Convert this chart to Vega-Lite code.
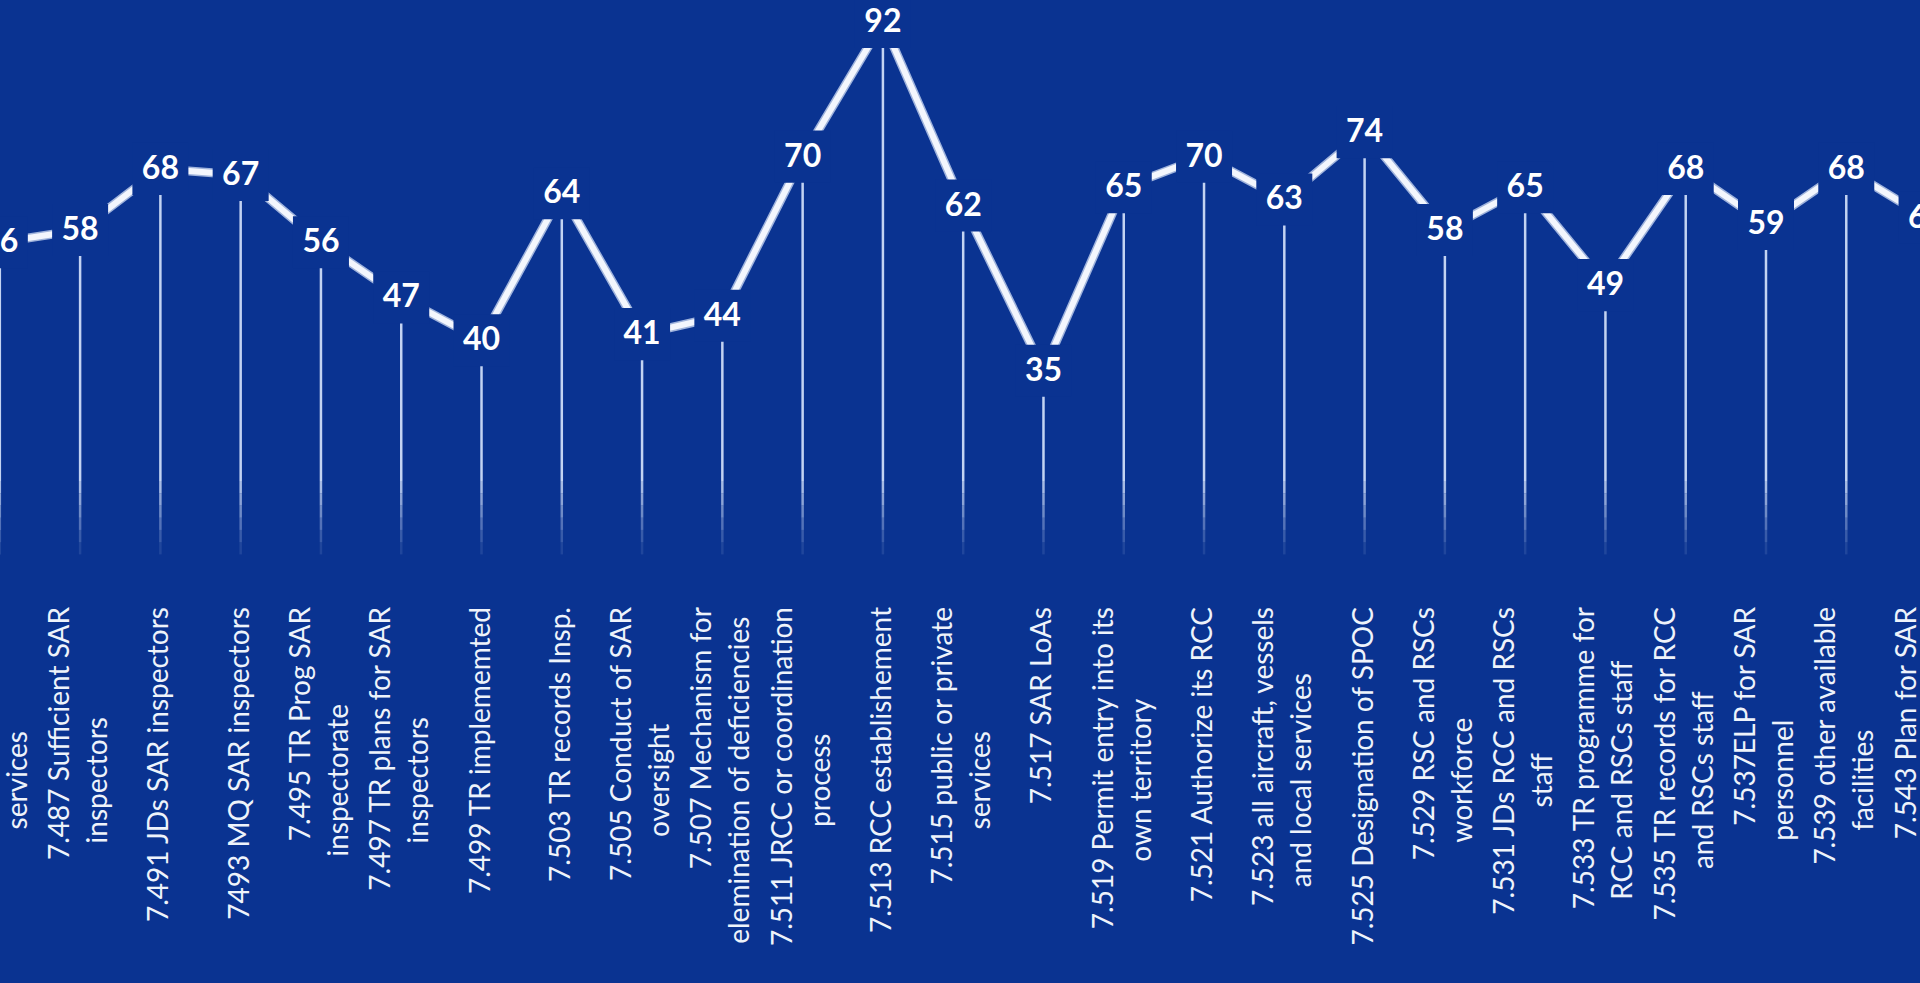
{
  "$schema": "https://vega.github.io/schema/vega-lite/v6.json",
  "width": 1920,
  "height": 983,
  "autosize": {"type": "none"},
  "padding": 0,
  "background": "#0a3391",
  "config": {"view": {"stroke": null}},
  "data": {
    "values": [
      {"i": 1, "value": 56, "label": "7.485 Provision of SAR and public or private", "label2": "services"},
      {"i": 2, "value": 58, "label": "7.487 Sufficient SAR", "label2": "inspectors"},
      {"i": 3, "value": 68, "label": "7.491 JDs SAR inspectors"},
      {"i": 4, "value": 67, "label": "7493 MQ SAR inspectors"},
      {"i": 5, "value": 56, "label": "7.495 TR Prog SAR", "label2": "inspectorate"},
      {"i": 6, "value": 47, "label": "7.497 TR plans for SAR", "label2": "inspectors"},
      {"i": 7, "value": 40, "label": "7.499 TR implememted"},
      {"i": 8, "value": 64, "label": "7.503 TR records Insp."},
      {"i": 9, "value": 41, "label": "7.505 Conduct of SAR", "label2": "oversight"},
      {"i": 10, "value": 44, "label": "7.507 Mechanism for", "label2": "elemination of deficiencies"},
      {"i": 11, "value": 70, "label": "7.511 JRCC or coordination", "label2": "process"},
      {"i": 12, "value": 92, "label": "7.513 RCC establishement"},
      {"i": 13, "value": 62, "label": "7.515 public or private", "label2": "services"},
      {"i": 14, "value": 35, "label": "7.517 SAR LoAs"},
      {"i": 15, "value": 65, "label": "7.519 Permit entry into its", "label2": "own territory"},
      {"i": 16, "value": 70, "label": "7.521 Authorize its RCC"},
      {"i": 17, "value": 63, "label": "7.523 all aircraft, vessels", "label2": "and local services"},
      {"i": 18, "value": 74, "label": "7.525 Designation of SPOC"},
      {"i": 19, "value": 58, "label": "7.529 RSC and RSCs", "label2": "workforce"},
      {"i": 20, "value": 65, "label": "7.531 JDs RCC and RSCs", "label2": "staff"},
      {"i": 21, "value": 49, "label": "7.533 TR programme for", "label2": "RCC and RSCs staff"},
      {"i": 22, "value": 68, "label": "7.535 TR records for RCC", "label2": "and RSCs staff"},
      {"i": 23, "value": 59, "label": "7.537ELP for SAR", "label2": "personnel"},
      {"i": 24, "value": 68, "label": "7.539 other available", "label2": "facilities"},
      {"i": 25, "value": 60, "label": "7.543 Plan for SAR", "label2": "operations"}
    ]
  },
  "encoding": {
    "x": {"field": "i", "type": "quantitative", "scale": {"domain": [1.0644, 24.856], "nice": false, "zero": false}, "axis": null}
  },
  "layer": [
    {
      "mark": {"type": "bar", "width": 2.5, "color": "#c3d3f2"},
      "encoding": {
        "y": {"field": "value", "type": "quantitative", "scale": {"domain": [-65.03, 95.59], "nice": false, "zero": false}, "axis": null},
        "y2": {"datum": 17}
      }
    },
    {
      "mark": {"type": "bar", "width": 2.5, "color": "#c3d3f2", "opacity": 0.85},
      "encoding": {"y": {"datum": 17}, "y2": {"datum": 15}}
    },
    {
      "mark": {"type": "bar", "width": 2.5, "color": "#c3d3f2", "opacity": 0.7},
      "encoding": {"y": {"datum": 15}, "y2": {"datum": 13}}
    },
    {
      "mark": {"type": "bar", "width": 2.5, "color": "#c3d3f2", "opacity": 0.55},
      "encoding": {"y": {"datum": 13}, "y2": {"datum": 11}}
    },
    {
      "mark": {"type": "bar", "width": 2.5, "color": "#c3d3f2", "opacity": 0.4},
      "encoding": {"y": {"datum": 11}, "y2": {"datum": 9}}
    },
    {
      "mark": {"type": "bar", "width": 2.5, "color": "#c3d3f2", "opacity": 0.25},
      "encoding": {"y": {"datum": 9}, "y2": {"datum": 7}}
    },
    {
      "mark": {"type": "bar", "width": 2.5, "color": "#c3d3f2", "opacity": 0.12},
      "encoding": {"y": {"datum": 7}, "y2": {"datum": 5}}
    },
    {
      "mark": {"type": "line", "color": "#9fb3dc", "strokeWidth": 9},
      "encoding": {"y": {"field": "value", "type": "quantitative"}}
    },
    {
      "mark": {"type": "line", "color": "#f3f6fd", "strokeWidth": 6},
      "encoding": {"y": {"field": "value", "type": "quantitative"}}
    },
    {
      "mark": {"type": "point", "shape": "M-1,-0.93H1V0.93H-1Z", "size": 3136, "filled": true, "color": "#0a3391", "opacity": 1, "strokeWidth": 0},
      "encoding": {"y": {"field": "value", "type": "quantitative"}}
    },
    {
      "mark": {"type": "text", "font": "Lato", "fontWeight": "bold", "fontSize": 32, "color": "#ffffff", "align": "center", "baseline": "middle"},
      "encoding": {
        "y": {"field": "value", "type": "quantitative"},
        "text": {"field": "value", "type": "quantitative"}
      }
    },
    {
      "transform": [{"filter": "!isValid(datum.label2)"}],
      "mark": {"type": "text", "font": "Lato", "fontSize": 28, "color": "#eef3fb", "angle": 270, "align": "right", "baseline": "middle"},
      "encoding": {
        "y": {"datum": -3.6},
        "text": {"field": "label", "type": "nominal"}
      }
    },
    {
      "transform": [{"filter": "isValid(datum.label2)"}],
      "mark": {"type": "text", "font": "Lato", "fontSize": 28, "color": "#eef3fb", "angle": 270, "align": "right", "baseline": "middle", "dy": -19},
      "encoding": {
        "y": {"datum": -3.6},
        "text": {"field": "label", "type": "nominal"}
      }
    },
    {
      "transform": [{"filter": "isValid(datum.label2)"}],
      "mark": {"type": "text", "font": "Lato", "fontSize": 28, "color": "#eef3fb", "angle": 270, "align": "center", "baseline": "middle", "dy": 19},
      "encoding": {
        "y": {"datum": -31.9},
        "text": {"field": "label2", "type": "nominal"}
      }
    }
  ]
}
